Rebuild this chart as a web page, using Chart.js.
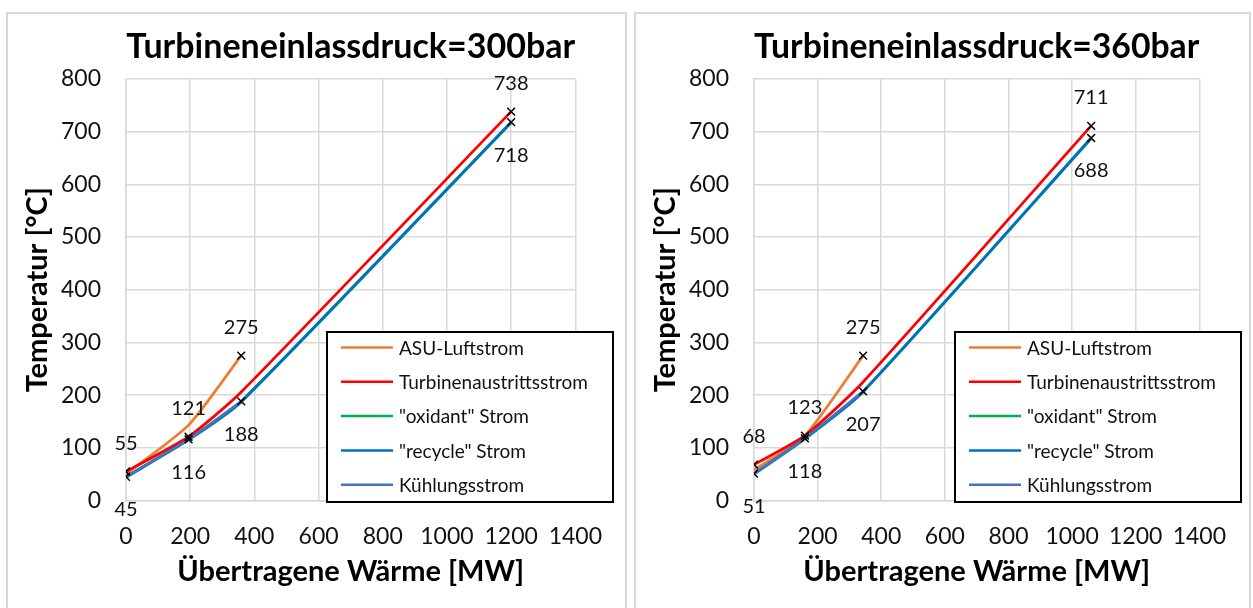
<!DOCTYPE html>
<html lang="de">
<head>
<meta charset="utf-8">
<script src="https://cdn.jsdelivr.net/npm/chart.js@4.4.1/dist/chart.umd.min.js"></script>
<style>
  html, body { margin: 0; background: #fff; }
  body { width: 1253px; height: 608px; position: relative; overflow: hidden; }
  .panel { position: absolute; top: 12px; height: 620px; border: 2px solid #d9d9d9; box-sizing: border-box; }
  #p300 { left: 6px; width: 621px; }
  #p360 { left: 634px; width: 617px; }
  canvas { position: absolute; left: 0; top: 0; }
</style>
</head>
<body>
<div class="panel" id="p300"><canvas id="c300" width="616" height="594" style="width:616px;height:594px"></canvas></div>
<div class="panel" id="p360"><canvas id="c360" width="612" height="594" style="width:612px;height:594px"></canvas></div>

<script>
// Stromnamen (Legende)
const stroeme = ["ASU-Luftstrom", "Turbinenaustrittsstrom", "\"oxidant\" Strom", "\"recycle\" Strom", "Kühlungsstrom"];
const farben = ["#ED7D31", "#FF0000", "#00B050", "#0070C0", "#4472C4"];

// Übertragene Wärme [MW] an den Stützstellen
const waerme300 = [0, 195, 359, 1200];
const waerme360 = [0, 160, 343, 1060];

// Temperaturen [°C], 300 bar
const asu300 = [50, 143, 275];
const turbine300 = [55, 121, 206, 738];
const oxidant300 = [44, 115, 187, 717];
const recycle300 = [45, 116, 188, 718];
const kuehlung300 = [45, 116, 188];

// Temperaturen [°C], 360 bar
const asu360 = [58, 123, 275];
const turbine360 = [68, 123, 225, 711];
const oxidant360 = [50, 117, 206, 687];
const recycle360 = [51, 118, 207, 688];
const kuehlung360 = [51, 118, 207];

// beschriftete Punkte
const punkteX300 = [0, 0, 195, 195, 359, 359, 1200, 1200];
const punkteT300 = [55, 45, 121, 116, 275, 188, 738, 718];
const punkteX360 = [0, 0, 160, 160, 343, 343, 1060, 1060];
const punkteT360 = [68, 51, 123, 118, 275, 207, 711, 688];

const xTicks = [0, 200, 400, 600, 800, 1000, 1200, 1400];
const yTicks = [0, 100, 200, 300, 400, 500, 600, 700, 800];

const FONT = "Lato";
const TEXT = "#111";
const GRID = "#d9d9d9";

const zip = (xs, ys) => ys.map((y, i) => ({ x: xs[i], y: y }));

// Werte an den markierten Punkten: oberer Punkt oben, unterer unten
const wertLabels = {
  id: "wertLabels",
  afterDatasetsDraw(chart) {
    const ctx = chart.ctx;
    chart.data.datasets.forEach((ds, di) => {
      if (!ds.markiert) return;
      const meta = chart.getDatasetMeta(di);
      ctx.save();
      ctx.font = "20px " + FONT;
      ctx.fillStyle = TEXT;
      ctx.textAlign = "center";
      ctx.textBaseline = "middle";
      ds.data.forEach((p, i) => {
        const el = meta.data[i];
        const unten = ds.data.some(q => q !== p && q.x === p.x && q.y > p.y);
        const y = unten ? el.y + 33 : el.y - 28;
        ctx.fillText(String(Math.round(p.y)), el.x, y);
      });
      ctx.restore();
    });
  }
};

// Legende mit Rahmen im Diagrammbereich
const kurvenLegende = {
  id: "kurvenLegende",
  afterDraw(chart) {
    const ctx = chart.ctx;
    const a = chart.chartArea;
    const left = a.left + 201, top = a.top + 253, w = 286, h = 170;
    ctx.save();
    ctx.fillStyle = "#fff";
    ctx.fillRect(left, top, w, h);
    ctx.strokeStyle = "#000";
    ctx.lineWidth = 2;
    ctx.strokeRect(left, top, w, h);
    ctx.font = "19px " + FONT;
    ctx.textBaseline = "middle";
    ctx.textAlign = "left";
    chart.data.datasets.filter(ds => !ds.markiert).forEach((ds, i) => {
      const y = top + 15.5 + i * 34.3;
      ctx.strokeStyle = ds.borderColor;
      ctx.lineWidth = 2.5;
      ctx.beginPath();
      ctx.moveTo(left + 14, y);
      ctx.lineTo(left + 66, y);
      ctx.stroke();
      ctx.fillStyle = TEXT;
      ctx.fillText(ds.label, left + 72, y + 1);
    });
    ctx.restore();
  }
};

function diagramm(id, titel, waerme, reihen, punkteX, punkteT, rechts) {
  const datasets = reihen.map((temps, i) => ({
    label: stroeme[i],
    data: zip(waerme, temps),
    showLine: true,
    borderColor: farben[i],
    backgroundColor: farben[i],
    borderWidth: 2.75,
    pointRadius: 0,
    tension: 0.2,
    order: -i
  }));
  datasets.push({
    label: "Punkte",
    markiert: true,
    data: zip(punkteX, punkteT),
    showLine: false,
    pointStyle: "crossRot",
    pointRadius: 5.5,
    borderColor: "#000",
    borderWidth: 1.5,
    order: -10
  });

  const tickFont = { family: FONT, size: 23 };
  const titleFont = { family: FONT, size: 29, weight: "bold" };

  return new Chart(document.getElementById(id), {
    type: "scatter",
    data: { datasets },
    options: {
      responsive: false,
      animation: false,
      layout: { padding: { left: 0, right: rechts, top: 0, bottom: 0 } },
      plugins: {
        legend: { display: false },
        tooltip: { enabled: false },
        title: {
          display: true,
          text: titel,
          fullSize: false,
          color: "#000",
          font: { family: FONT, size: 34, weight: "bold" },
          padding: { top: 12.5, bottom: 11.7 }
        }
      },
      scales: {
        x: {
          type: "linear",
          min: xTicks[0],
          max: xTicks[xTicks.length - 1],
          afterBuildTicks: s => { s.ticks = xTicks.map(v => ({ value: v })); },
          ticks: { color: TEXT, font: tickFont, padding: 22, maxRotation: 0, callback: v => String(v) },
          grid: { color: GRID, lineWidth: 1.5, drawTicks: false },
          border: { color: GRID, width: 1.5 },
          title: { display: true, text: "Übertragene Wärme [MW]", color: "#000", font: titleFont, padding: { top: 0, bottom: 18.6 } },
          afterFit: s => { s.height = 107.5; }
        },
        y: {
          min: yTicks[0],
          max: yTicks[yTicks.length - 1],
          afterBuildTicks: s => { s.ticks = yTicks.map(v => ({ value: v })); },
          ticks: { color: TEXT, font: tickFont, padding: 25, callback: v => String(v) },
          grid: { color: GRID, lineWidth: 1.5, drawTicks: false },
          border: { color: GRID, width: 1.5 },
          title: { display: true, text: "Temperatur [°C]", color: "#000", font: titleFont, padding: { top: 12.6, bottom: 0 } },
          afterFit: s => { s.width = 118; }
        }
      }
    },
    plugins: [wertLabels, kurvenLegende]
  });
}

diagramm("c300", "Turbineneinlassdruck=300bar", waerme300,
  [asu300, turbine300, oxidant300, recycle300, kuehlung300], punkteX300, punkteT300, 47);
diagramm("c360", "Turbineneinlassdruck=360bar", waerme360,
  [asu360, turbine360, oxidant360, recycle360, kuehlung360], punkteX360, punkteT360, 42);
</script>
</body>
</html>
